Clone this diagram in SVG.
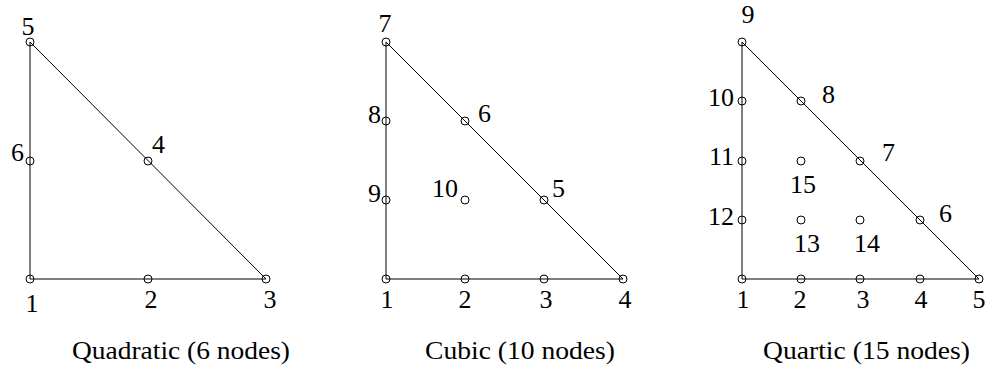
<svg xmlns="http://www.w3.org/2000/svg" width="990" height="369" viewBox="0 0 990 369">
<style>
  .edge{stroke:#000;stroke-width:1;fill:none}
  .nd{stroke:#000;stroke-width:1;fill:none}
  .m{text-anchor:middle}
  .e{text-anchor:end}
</style>
<rect width="990" height="369" fill="#fff"/>
<g id="connectors">
  <polygon class="edge" points="30,279 266,279 30,42"/>
  <polygon class="edge" points="386,279 623,279 386,42"/>
  <polygon class="edge" points="742,279 979,279 742,42"/>
</g>
<g font-family="'Liberation Serif', 'Times New Roman', serif" font-size="26" fill="#000">
<!-- Quadratic -->
<g id="q1"><circle class="nd" cx="30" cy="279" r="4"/><text class="m" x="32" y="312">1</text></g>
<g id="q2"><circle class="nd" cx="148" cy="279" r="4"/><text class="m" x="151" y="308">2</text></g>
<g id="q3"><circle class="nd" cx="266" cy="279" r="4"/><text class="m" x="270" y="308">3</text></g>
<g id="q4"><circle class="nd" cx="148" cy="161" r="4"/><text x="152" y="153">4</text></g>
<g id="q5"><circle class="nd" cx="30" cy="42" r="4"/><text class="m" x="28" y="35">5</text></g>
<g id="q6"><circle class="nd" cx="30" cy="161" r="4"/><text class="e" x="24" y="161">6</text></g>
<text id="cap-quadratic" class="m" x="181" y="359" textLength="218" lengthAdjust="spacingAndGlyphs">Quadratic (6 nodes)</text>
<!-- Cubic -->
<g id="c1"><circle class="nd" cx="386" cy="279" r="4"/><text class="m" x="387" y="308">1</text></g>
<g id="c2"><circle class="nd" cx="465" cy="279" r="4"/><text class="m" x="465" y="308">2</text></g>
<g id="c3"><circle class="nd" cx="544" cy="279" r="4"/><text class="m" x="546" y="308">3</text></g>
<g id="c4"><circle class="nd" cx="623" cy="279" r="4"/><text class="m" x="625" y="308">4</text></g>
<g id="c5"><circle class="nd" cx="544" cy="200" r="4"/><text x="552" y="197">5</text></g>
<g id="c6"><circle class="nd" cx="465" cy="121" r="4"/><text x="478" y="122">6</text></g>
<g id="c7"><circle class="nd" cx="386" cy="42" r="4"/><text class="m" x="385" y="32">7</text></g>
<g id="c8"><circle class="nd" cx="386" cy="121" r="4"/><text class="e" x="381" y="123">8</text></g>
<g id="c9"><circle class="nd" cx="386" cy="200" r="4"/><text class="e" x="381" y="202">9</text></g>
<g id="c10"><circle class="nd" cx="465" cy="200" r="4"/><text class="e" x="458" y="197">10</text></g>
<text id="cap-cubic" class="m" x="520" y="359" textLength="190" lengthAdjust="spacingAndGlyphs">Cubic (10 nodes)</text>
<!-- Quartic -->
<g id="r1"><circle class="nd" cx="742" cy="279" r="4"/><text class="m" x="743" y="308">1</text></g>
<g id="r2"><circle class="nd" cx="801" cy="279" r="4"/><text class="m" x="800" y="308">2</text></g>
<g id="r3"><circle class="nd" cx="860" cy="279" r="4"/><text class="m" x="863" y="308">3</text></g>
<g id="r4"><circle class="nd" cx="920" cy="279" r="4"/><text class="m" x="921" y="308">4</text></g>
<g id="r5"><circle class="nd" cx="979" cy="279" r="4"/><text class="m" x="979" y="308">5</text></g>
<g id="r6"><circle class="nd" cx="920" cy="220" r="4"/><text x="939" y="222">6</text></g>
<g id="r7"><circle class="nd" cx="860" cy="161" r="4"/><text x="882" y="161">7</text></g>
<g id="r8"><circle class="nd" cx="801" cy="101" r="4"/><text x="822" y="103">8</text></g>
<g id="r9"><circle class="nd" cx="742" cy="42" r="4"/><text class="m" x="748" y="23">9</text></g>
<g id="r10"><circle class="nd" cx="742" cy="101" r="4"/><text class="e" x="734" y="106">10</text></g>
<g id="r11"><circle class="nd" cx="742" cy="161" r="4"/><text class="e" x="734" y="165">11</text></g>
<g id="r12"><circle class="nd" cx="742" cy="220" r="4"/><text class="e" x="734" y="225">12</text></g>
<g id="r13"><circle class="nd" cx="801" cy="220" r="4"/><text class="m" x="807" y="252">13</text></g>
<g id="r14"><circle class="nd" cx="860" cy="220" r="4"/><text class="m" x="867" y="252">14</text></g>
<g id="r15"><circle class="nd" cx="801" cy="161" r="4"/><text class="m" x="803" y="193">15</text></g>
<text id="cap-quartic" class="m" x="866.5" y="359" textLength="207" lengthAdjust="spacingAndGlyphs">Quartic (15 nodes)</text>
</g>
</svg>
